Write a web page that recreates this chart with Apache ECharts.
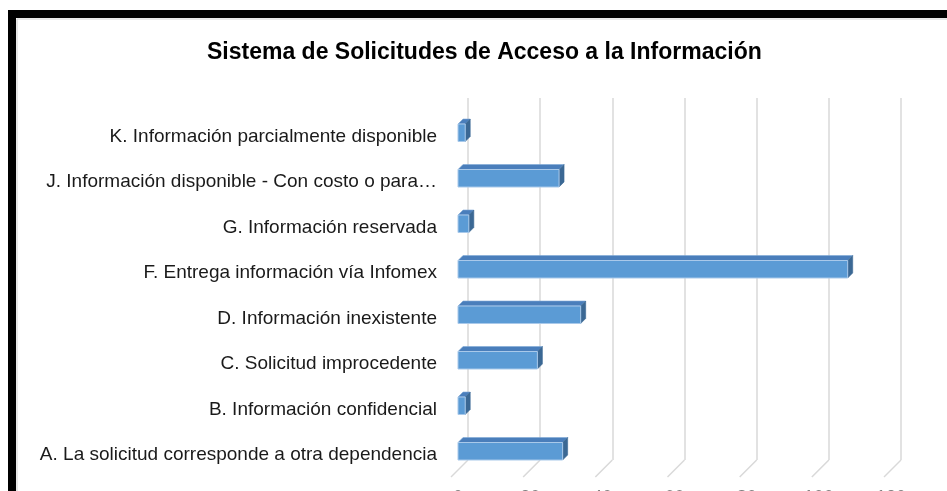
<!DOCTYPE html>
<html>
<head>
<meta charset="utf-8">
<script src="https://cdn.jsdelivr.net/npm/echarts@6/dist/echarts.min.js"></script>
<style>html,body{margin:0;padding:0;background:#fff;}#c{width:947px;height:491px;}</style>
</head>
<body>
<div id="c"></div>
<script>
const titleText = 'Sistema de Solicitudes de Acceso a la Información';
const categories = [
  'A. La solicitud corresponde a otra dependencia',
  'B. Información confidencial',
  'C. Solicitud improcedente',
  'D. Información inexistente',
  'F. Entrega información vía Infomex',
  'G. Información reservada',
  'J. Información disponible - Con costo o para…',
  'K. Información parcialmente disponible'
];
const values = [29, 2, 22, 34, 108, 3, 28, 2];
const axisTicks = [0, 20, 40, 60, 80, 100, 120];

const chart = echarts.init(document.getElementById('c'), null, {renderer: 'canvas'});
const font = 'Liberation Sans, Arial, sans-serif';

chart.setOption({
  animation: false,
  backgroundColor: '#ffffff',
  title: {
    text: titleText, left: 207, top: 41, padding: 0,
    textStyle: {fontFamily: font, fontSize: 23, fontWeight: 'bold', color: '#000'}
  },
  graphic: [
    {type: 'rect', shape: {x: 8, y: 10, width: 939, height: 8}, style: {fill: '#000'}},
    {type: 'rect', shape: {x: 8, y: 10, width: 8, height: 481}, style: {fill: '#000'}},
    {type: 'line', shape: {x1: 17, y1: 19, x2: 947, y2: 19}, style: {stroke: '#d0d0d0', lineWidth: 1}},
    {type: 'line', shape: {x1: 17, y1: 19, x2: 17, y2: 491}, style: {stroke: '#d0d0d0', lineWidth: 1}}
  ],
  grid: [
    {left: 468, right: 46, top: 98, bottom: 31, outerBoundsMode: 'none', containLabel: false},
    {left: 458, right: 56, top: 114, bottom: 13, outerBoundsMode: 'none', containLabel: false}
  ],
  xAxis: [
    {gridIndex: 0, type: 'value', min: 0, max: 120, interval: 20,
     axisLine: {show: false}, axisTick: {show: false}, axisLabel: {show: false},
     splitLine: {show: true, lineStyle: {color: '#d9d9d9', width: 1.5}}},
    {gridIndex: 1, type: 'value', min: 0, max: 120, interval: 20,
     axisLine: {show: false}, axisTick: {show: false}, splitLine: {show: false},
     axisLabel: {show: true, margin: 11, fontFamily: font, fontSize: 18, color: '#7f7f7f'}}
  ],
  yAxis: [
    {gridIndex: 0, type: 'value', min: 0, max: 1, show: false},
    {gridIndex: 1, type: 'category', data: categories,
     axisLine: {show: false}, axisTick: {show: false},
     axisLabel: {margin: 21, fontFamily: font, fontSize: 19, color: '#1a1a1a'}}
  ],
  series: [
    {
      type: 'custom', xAxisIndex: 0, yAxisIndex: 0, silent: true,
      data: axisTicks.map(v => [v, 0]),
      renderItem: function (params, api) {
        const p = api.coord([api.value(0), 0]);
        return {type: 'line', shape: {x1: p[0], y1: p[1], x2: p[0] - 17, y2: p[1] + 17},
          style: {stroke: '#d9d9d9', lineWidth: 1.5}};
      }
    },
    {
      type: 'custom', xAxisIndex: 1, yAxisIndex: 1, silent: true,
      data: values.map((v, i) => [v, i]),
      renderItem: function (params, api) {
        const idx = api.value(1);
        const p0 = api.coord([0, idx]);
        const p1 = api.coord([api.value(0), idx]);
        const h = 17.5, d = 5, dy = 5;
        const x0 = p0[0], x1 = p1[0];
        const yc = p0[1] - 4;
        const yT = yc - h / 2, yB = yc + h / 2;
        return {type: 'group', children: [
          {type: 'polygon', shape: {points: [[x0, yT], [x1, yT], [x1 + d, yT - dy], [x0 + d, yT - dy]]},
           style: {fill: '#4a7ebb', stroke: '#7fa9d6', lineWidth: 0.6}},
          {type: 'polygon', shape: {points: [[x1, yT], [x1 + d, yT - dy], [x1 + d, yB - dy], [x1, yB]]},
           style: {fill: '#3b6894', stroke: '#3b6894', lineWidth: 0.6}},
          {type: 'rect', shape: {x: x0, y: yT, width: x1 - x0, height: h},
           style: {fill: '#5b9bd5', stroke: '#a9c9ea', lineWidth: 1}}
        ]};
      }
    }
  ]
});
</script>
</body>
</html>
